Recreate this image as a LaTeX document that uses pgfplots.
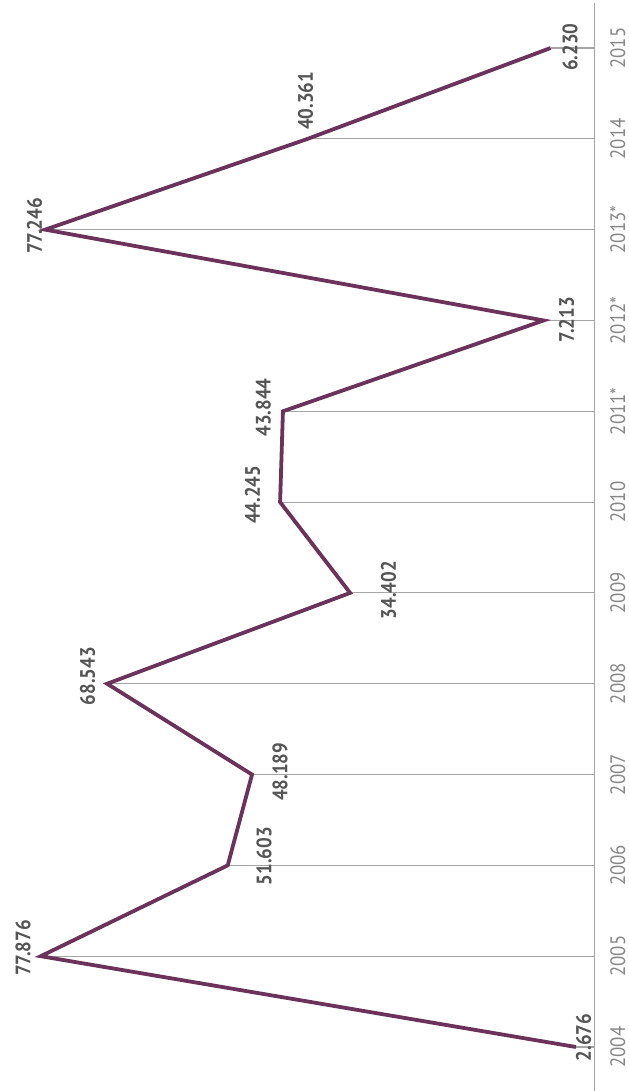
\documentclass[border=0pt]{standalone}
\usepackage{fontspec}
\setmainfont{PT Sans}[FakeStretch=0.9]
\usepackage{pgfplots}
\usepackage{pgfplotstable}
\pgfplotsset{compat=1.18}
\definecolor{linepurple}{RGB}{107,51,89}
\definecolor{axisgray}{RGB}{165,165,165}
\definecolor{labelgray}{RGB}{85,85,85}
\definecolor{yeargray}{RGB}{135,135,135}

\pgfplotstableread{
idx value
0 2.676
1 77.876
2 51.603
3 48.189
4 68.543
5 34.402
6 44.245
7 43.844
8 7.213
9 77.246
10 40.361
11 6.230
}\datatable

\pgfplotstableread{
lx ly label
1.62 0.105 2.676
80.36 1.09 77.876
46.5 2.10 51.603
44.25 3.03 48.189
71.3 4.085 68.543
29.0 5.03 34.402
48.1 6.08 44.245
46.6 7.04 43.844
4.0 8.01 7.213
78.75 9.04 77.246
40.67 10.42 40.361
3.5 11.01 6.230
}\labeltable

\begin{document}
\begin{tikzpicture}
\begin{axis}[
  at={(0bp,0.4bp)}, anchor=south west,
  scale only axis, width=595bp, height=1088bp,
  x dir=reverse, xmin=0, xmax=83.6, ymin=-0.48, ymax=11.5,
  axis x line=none, axis y line*=right,
  y axis line style={axisgray, line width=1bp},
  ytick={0,...,11},
  yticklabels={2004,2005,2006,2007,2008,2009,2010,2011*,2012*,2013*,2014,2015},
  major tick length=0pt,
  yticklabel style={rotate=90, anchor=north, inner sep=0pt, font=\fontsize{21}{21}\selectfont, text=yeargray},
  yticklabel shift=15bp,
  clip=false]
\addplot[xcomb, axisgray, line width=1.1bp, mark=none] table[x=value,y=idx]{\datatable};
\addplot[linepurple, line width=3.8bp, mark=none] table[x=value,y=idx]{\datatable};
\addplot[draw=none, mark=none, nodes near coords, point meta=explicit symbolic,
  every node near coord/.append style={rotate=90, anchor=center, inner sep=0pt,
    font=\bfseries\fontsize{21}{21}\selectfont, text=labelgray}]
  table[x=lx,y=ly,meta=label]{\labeltable};
\end{axis}
\pgfresetboundingbox
\path[use as bounding box] (0,0) rectangle (629bp,1091bp);
\end{tikzpicture}
\end{document}
